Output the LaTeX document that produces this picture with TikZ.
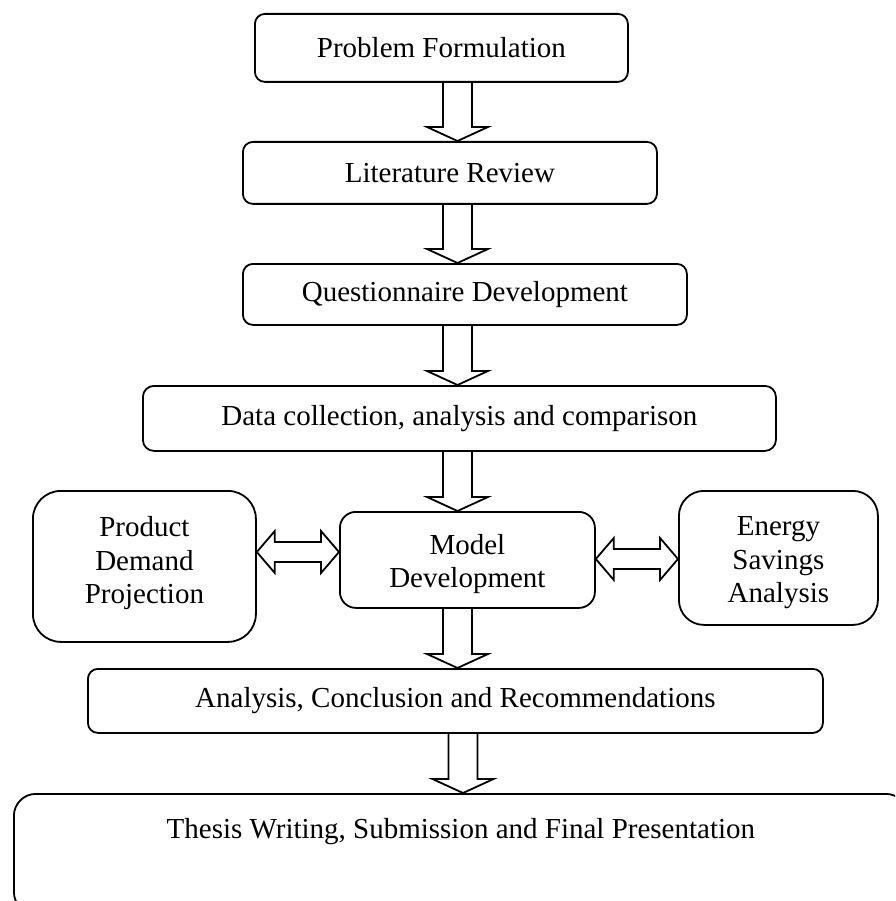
\documentclass[tikz,border=0pt]{standalone}
\usepackage{fontspec}
\setmainfont{Liberation Serif}
\usetikzlibrary{calc}
\tikzset{
  stage/.style={draw, line width=1.8pt, inner sep=0pt, anchor=north west,
    align=center, font=\fontsize{29}{33.5}\selectfont},
  blk/.style={draw, line width=1.8pt, line join=miter},
}
% block arrow pointing down: #1 x-reference coordinate, #2 start anchor, #3 target anchor
\newcommand\blkdown[3]{%
  \draw[blk] ($(#1 |- #2)+(-14.5,0)$) -- ($(#1 |- #3)+(-14.5,-14)$)
    -- ($(#1 |- #3)+(-30.5,-14)$) -- (#1 |- #3) -- ($(#1 |- #3)+(30.5,-14)$)
    -- ($(#1 |- #3)+(14.5,-14)$) -- ($(#1 |- #2)+(14.5,0)$);}
% double headed block arrow between two named tips #1 (left) and #2 (right)
\newcommand\blkdouble[2]{%
  \draw[blk] (#1) -- ($(#1)+(18,-21)$) -- ($(#1)+(18,-10)$) -- ($(#2)+(-18,-10)$)
    -- ($(#2)+(-18,-21)$) -- (#2) -- ($(#2)+(-18,21)$) -- ($(#2)+(-18,10)$)
    -- ($(#1)+(18,10)$) -- ($(#1)+(18,21)$) -- cycle;}
\begin{document}
\begin{tikzpicture}[x=1pt, y=-1pt]
\clip (0,0) rectangle (895,901);
\fill[white] (0,0) rectangle (895,901);

\node[stage, minimum width=373pt, minimum height=68pt, rounded corners=10pt] (b1) at (254,13) {Problem Formulation};
\node[stage, minimum width=414pt, minimum height=62pt, rounded corners=10pt] (b2) at (242,141) {Literature Review};
\node[stage, minimum width=444pt, minimum height=61pt, rounded corners=10pt] (b3) at (242,263) {Questionnaire Development};
\node[stage, minimum width=633pt, minimum height=65pt, rounded corners=11pt] (b4) at (142,385) {Data collection, analysis and comparison};
\node[stage, minimum width=223pt, minimum height=151pt, rounded corners=28pt] (lft) at (32,490) {Product\\Demand\\Projection\rule[-12pt]{0pt}{0pt}};
\node[stage, minimum width=255pt, minimum height=96pt, rounded corners=16pt] (mdl) at (339,511) {\rule{0pt}{28pt}Model\\Development};
\node[stage, minimum width=199pt, minimum height=134pt, rounded corners=25pt] (rgt) at (678,490) {\rule{0pt}{29pt}Energy\\Savings\\Analysis};
\node[stage, minimum width=735pt, minimum height=64pt, rounded corners=10pt] (b5) at (87,668) {Analysis, Conclusion and Recommendations};
\node[stage, minimum width=894pt, text height=45pt, text depth=75pt, rounded corners=22pt] (b6) at (13,793) {Thesis Writing, Submission and Final Presentation};

\coordinate (ax) at (457.5,0);
\coordinate (bx) at (463,0);
\blkdown{ax}{b1.south}{b2.north}
\blkdown{ax}{b2.south}{b3.north}
\blkdown{ax}{b3.south}{b4.north}
\blkdown{ax}{b4.south}{mdl.north}
\blkdown{ax}{mdl.south}{b5.north}
\blkdown{bx}{b5.south}{b6.north}

\coordinate (yl) at (0,552);
\coordinate (yr) at (0,559);
\coordinate (la) at (lft.east |- yl);
\coordinate (lb) at (mdl.west |- yl);
\coordinate (ra) at (mdl.east |- yr);
\coordinate (rb) at (rgt.west |- yr);
\blkdouble{la}{lb}
\blkdouble{ra}{rb}
\end{tikzpicture}
\end{document}
